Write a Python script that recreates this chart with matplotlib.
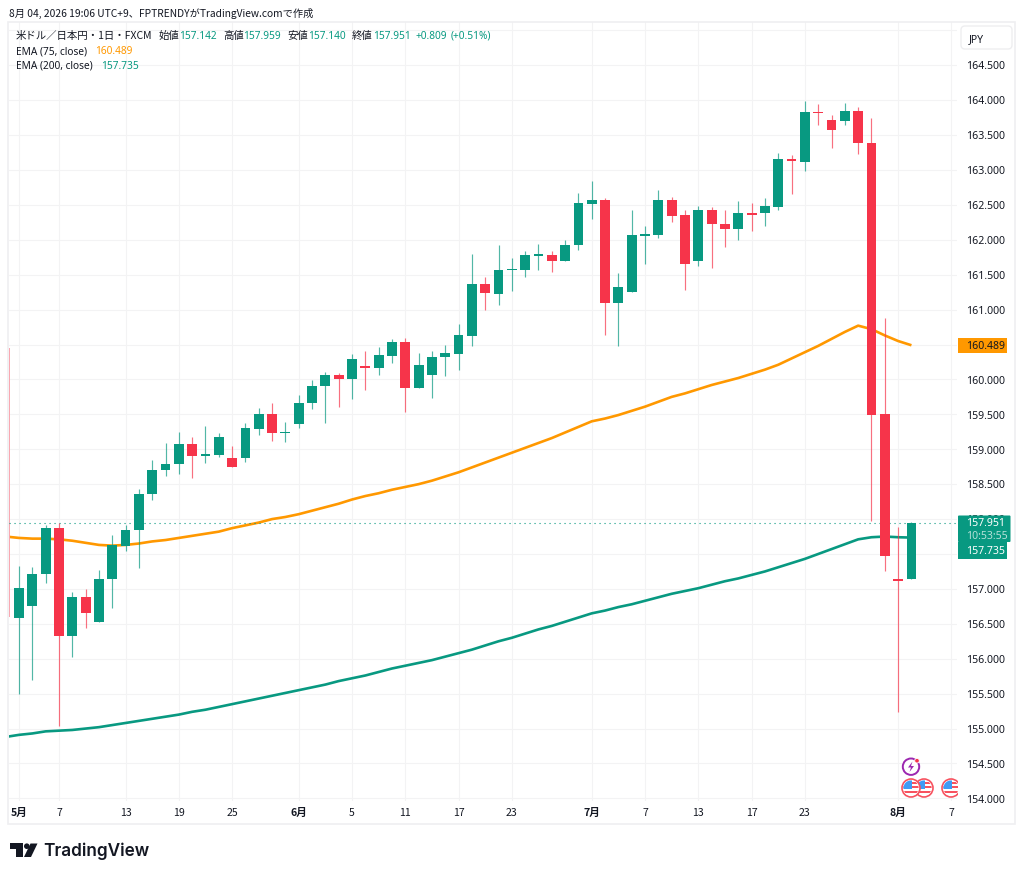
import matplotlib
matplotlib.use("Agg")
import matplotlib.pyplot as plt
from matplotlib.patches import Rectangle, FancyBboxPatch, Circle, Polygon

# ---------------- data ----------------
opens = [156.585,156.75,157.21,157.87,156.32,156.88,156.52,157.14,157.62,157.84,158.36,158.71,158.785,159.08,158.90,158.92,158.88,158.87,
         159.29,159.50,159.23,159.36,159.66,159.90,160.06,160.00,160.19,160.17,160.34,160.54,159.87,160.06,160.32,160.37,160.62,161.37,161.22,161.56,161.56,161.77,
         161.78,161.70,161.92,162.51,162.57,161.10,161.25,162.06,162.07,162.57,162.35,161.70,162.43,162.23,162.16,162.39,162.39,162.47,163.15,163.12,163.83,163.71,163.70,163.84,
         163.38,159.50,157.14,157.142]
highs = [157.33,157.31,157.92,157.95,156.96,156.995,157.27,157.77,157.92,158.43,158.84,159.09,159.25,159.17,159.34,159.23,159.04,159.38,
         159.59,159.66,159.39,159.78,159.99,160.10,160.09,160.36,160.40,160.46,160.58,160.60,160.38,160.40,160.49,160.80,161.80,161.46,161.93,161.74,161.84,161.94,
         161.84,161.99,162.67,162.84,162.60,161.52,162.42,162.19,162.71,162.61,162.42,162.49,162.47,162.42,162.55,162.52,162.60,163.24,163.22,163.98,163.94,163.79,163.96,163.90,
         163.74,160.88,157.89,157.959]
lows = [155.50,155.69,157.09,155.04,156.03,156.44,156.52,156.72,157.55,157.30,158.27,158.62,158.65,158.59,158.81,158.885,158.75,158.82,
        159.20,159.12,159.10,159.30,159.58,159.38,159.60,159.72,159.85,160.07,160.24,159.54,159.87,159.74,160.05,160.13,160.48,161.00,161.07,161.27,161.46,161.56,
        161.54,161.70,161.86,162.30,160.63,160.48,161.25,161.66,162.02,162.25,161.28,161.62,161.60,161.90,161.99,162.12,162.20,162.43,162.66,162.99,163.64,163.32,163.64,163.23,
        157.97,157.25,155.24,157.14]
closes = [157.02,157.22,157.87,156.32,156.88,156.65,157.14,157.63,157.85,158.365,158.71,158.79,159.08,158.90,158.93,159.18,158.75,159.30,
          159.50,159.23,159.24,159.66,159.91,160.06,160.00,160.29,160.17,160.35,160.54,159.87,160.20,160.32,160.38,160.63,161.37,161.24,161.57,161.58,161.78,161.79,
          161.69,161.93,162.52,162.57,161.10,161.33,162.07,162.08,162.57,162.34,161.66,162.43,162.22,162.16,162.39,162.35,162.49,163.15,163.13,163.83,163.81,163.57,163.84,163.38,
          159.49,157.47,157.11,157.951]
ema75 = [157.73,157.72,157.72,157.71,157.69,157.66,157.63,157.62,157.63,157.65,157.68,157.70,157.73,157.76,157.79,157.82,157.87,157.91,
         157.95,158.00,158.03,158.07,158.12,158.17,158.22,158.28,158.33,158.37,158.42,158.46,158.50,158.55,158.61,158.67,158.74,158.81,158.88,158.95,159.02,159.09,
         159.16,159.24,159.32,159.40,159.44,159.49,159.55,159.61,159.68,159.75,159.80,159.86,159.92,159.97,160.02,160.08,160.14,160.21,160.30,160.39,160.48,160.58,160.68,160.77,
         160.72,160.63,160.55,160.489]
ema200 = [154.91,154.93,154.96,154.97,154.98,155.00,155.02,155.05,155.08,155.11,155.14,155.17,155.20,155.24,155.27,155.31,155.35,155.39,
          155.43,155.47,155.51,155.55,155.59,155.63,155.68,155.72,155.76,155.81,155.86,155.90,155.94,155.98,156.03,156.08,156.13,156.19,156.25,156.30,156.36,156.42,
          156.47,156.53,156.59,156.65,156.69,156.74,156.78,156.83,156.88,156.93,156.97,157.01,157.06,157.11,157.15,157.20,157.25,157.31,157.37,157.43,157.50,157.57,157.64,157.71,
          157.74,157.75,157.74,157.735]
ema75_before = 157.75
ema200_before = 154.88
clipped_high = 160.455
clipped_low = 156.60
price_ticks = [154.0,154.5,155.0,155.5,156.0,156.5,157.0,157.5,158.0,158.5,159.0,159.5,160.0,160.5,161.0,161.5,162.0,162.5,163.0,163.5,164.0,164.5]
grid_only = [165.0]
time_idx = [0,3,8,12,16,21,25,29,33,37,43,47,51,55,59,66,70]
time_labels = ['5月','7','13','19','25','6月','5','11','17','23','7月','7','13','17','23','8月','7']
last_price = 157.951

# ---------------- layout ----------------
W, H = 1024, 878
L, R, T, B = 9, 957, 23, 802
X0, DX = 19.0, 13.32
Y164, PPU = 101.1, 69.83
GREEN, RED, ORANGE = '#089981', '#F6344A', '#FF9800'
INK = '#131722'
CJK = ['Noto Sans CJK JP', 'DejaVu Sans']
AXF = ['Noto Sans', 'DejaVu Sans']
AXS = 7.55
LEG = 7.3

fig = plt.figure(figsize=(W/100, H/100), dpi=100, facecolor='white')
ax = fig.add_axes([L/W, 1-B/H, (R-L)/W, (B-T)/H])
ax.set_xlim((L-X0)/DX, (R-X0)/DX)
ax.set_ylim(164-(B-Y164)/PPU, 164+(Y164-T)/PPU)
for s in ax.spines.values():
    s.set_visible(False)
ax.set_xticks([]); ax.set_yticks([])
ax.set_facecolor('white')

for p in price_ticks+grid_only:
    ax.axhline(p, color='#F3F3F4', lw=0.8, zorder=0)
for i in time_idx:
    ax.axvline(i, color='#F3F3F4', lw=0.8, zorder=0)

# clipped candle at the pane's left edge
ax.vlines(ax.get_xlim()[0]+0.02, clipped_low, clipped_high, color='#F9A6B0', lw=1.4, zorder=2)

idx = list(range(len(opens)))
ax.plot([-1]+idx, [ema75_before]+ema75, color=ORANGE, lw=1.9, zorder=1, solid_capstyle='butt')
ax.plot([-1]+idx, [ema200_before]+ema200, color=GREEN, lw=1.9, zorder=1, solid_capstyle='butt')

for i in idx:
    c = GREEN if closes[i] >= opens[i] else RED
    ax.vlines(i, lows[i], highs[i], color=c, lw=0.85, alpha=0.7, zorder=3)
    lo, hi = min(opens[i], closes[i]), max(opens[i], closes[i])
    ax.bar(i, hi-lo, 0.74, bottom=lo, color=c, lw=0, zorder=4)

ax.axhline(last_price, color=GREEN, lw=0.8, ls=(0, (1, 3.5)), zorder=2)

# overlay in pixel units
ov = fig.add_axes([0, 0, 1, 1], facecolor='none')
ov.set_xlim(0, W); ov.set_ylim(H, 0); ov.axis('off')

ov.add_patch(Rectangle((8, 23), 1015-8, 825-23, fill=False, ec='#EFEFF1', lw=1.2))
ov.add_patch(FancyBboxPatch((963, 29), 47, 19, boxstyle='round,pad=2,rounding_size=4', fc='white', ec='#EEEEF0', lw=1))
ov.text(969, 39.5, 'JPY', fontsize=AXS, color=INK, family=AXF, va='center', ha='left')

def ypx(p):
    return Y164+(164-p)*PPU

pane_clip = Rectangle((958, 23), 60, 778.5, transform=ov.transData)
for p in price_ticks:
    t = ov.text(966, ypx(p)+0.8, f'{p:.3f}', fontsize=AXS, color=INK, family=AXF, va='center', ha='left')
    t.set_clip_path(pane_clip)

for i, lab in zip(time_idx, time_labels):
    bold = '月' in lab
    ov.text(X0+i*DX, 813, lab, fontsize=7.6, color=INK, family=CJK, va='center', ha='center',
            fontweight='bold' if bold else 'normal')

# price tags
ov.add_patch(Rectangle((958, 339), 49, 14.5, fc=ORANGE, ec='none', zorder=5))
ov.text(966, 346.8, '160.489', fontsize=AXS, color=INK, family=AXF, va='center', zorder=6)
ov.add_patch(FancyBboxPatch((958, 516.5), 52.5, 26.5, boxstyle='round,pad=0,rounding_size=1', fc=GREEN, ec='none', zorder=5))
ov.add_patch(Rectangle((958, 543), 49, 16.5, fc=GREEN, ec='none', zorder=5))
ov.text(966, 523.5, '157.951', fontsize=AXS, color='white', family=AXF, va='center', zorder=6, fontweight='medium')
ov.text(966, 536.5, '10:53:55', fontsize=AXS, color='#B5E0D8', family=AXF, va='center', zorder=6)
ov.text(966, 551.5, '157.735', fontsize=AXS, color='white', family=AXF, va='center', zorder=6, fontweight='medium')

# header text
ov.text(9, 13, '8月 04, 2026 19:06 UTC+9、FPTRENDYがTradingView.comで作成', fontsize=7.35, color=INK, family=CJK, va='center')
ov.text(16, 36, '米ドル／日本円・1日・FXCM', fontsize=7.5, color=INK, family=CJK, va='center')
hdr = [('始値', 159, '157.142', 179), ('高値', 223, '157.959', 243), ('安値', 287, '157.140', 308), ('終値', 352, '157.951', 373)]
for a, xa, b, xb in hdr:
    ov.text(xa, 36, a, fontsize=7.5, color=INK, family=CJK, va='center')
    ov.text(xb, 36.5, b, fontsize=LEG, color=GREEN, family=AXF, va='center')
ov.text(416, 36.5, '+0.809', fontsize=LEG, color=GREEN, family=AXF, va='center')
ov.text(451, 36.5, '(+0.51%)', fontsize=LEG, color=GREEN, family=AXF, va='center')
ov.text(16, 51.5, 'EMA (75, close)', fontsize=LEG, color=INK, family=AXF, va='center')
ov.text(95, 51.5, '160.489', fontsize=LEG, color=ORANGE, family=AXF, va='center')
ov.text(16, 66.5, 'EMA (200, close)', fontsize=LEG, color=INK, family=AXF, va='center')
ov.text(101, 66.5, '157.735', fontsize=LEG, color=GREEN, family=AXF, va='center')

# event icons
ov.add_patch(Circle((911, 767.7), 8.2, fc='white', ec='#9C27B0', lw=1.4, zorder=7))
ov.add_patch(Polygon([(912.5, 762.5), (908, 768.5), (911, 768.5), (909.5, 773), (914, 767), (911, 767)], fc='#9C27B0', ec='none', zorder=8))
ov.add_patch(Circle((917, 761.7), 2.3, fc=RED, ec='white', lw=0.6, zorder=9))

def flag(cx, cy, z):
    r = 7.6
    ov.add_patch(Circle((cx, cy), 9, fc='white', ec='#F7525F', lw=1.2, zorder=z))
    clipc = Circle((cx, cy), r, transform=ov.transData)
    for (x, y, w, h, col) in [(cx-r, cy-r, 2*r, 2*r, 'white'),
                              (cx-r, cy-2, 2*r, 2.5, '#F7525F'),
                              (cx-r, cy+3, 2*r, 2.5, '#F7525F'),
                              (cx, cy-6, r, 2.5, '#F7525F'),
                              (cx-r, cy-r, r+0.5, r+1, '#3F9BF5')]:
        rr = Rectangle((x, y), w, h, fc=col, ec='none', zorder=z+0.1)
        ov.add_patch(rr)
        rr.set_clip_path(clipc)

flag(911, 789, 7)
flag(924, 789, 6)
flag(951, 789, 6)
ov.add_patch(Rectangle((957.5, 778), 8, 22, fc='white', ec='none', zorder=6.4))

# logo
LOGO = '#131722'
ov.add_patch(Polygon([(10, 844.5), (22.5, 844.5), (22.5, 858), (16, 858), (16, 850), (10, 850)], fc=LOGO, ec='none'))
ov.add_patch(Circle((26.8, 847.2), 2.8, fc=LOGO, ec='none'))
ov.add_patch(Polygon([(30.5, 844.5), (37.5, 844.5), (31, 858), (24, 858)], fc=LOGO, ec='none'))
ov.text(43, 851.5, 'TradingView', fontsize=12.4, color=LOGO, family=['Inter', 'DejaVu Sans'], fontweight='semibold', va='center')

fig.savefig('out.png', dpi=100, facecolor='white')
